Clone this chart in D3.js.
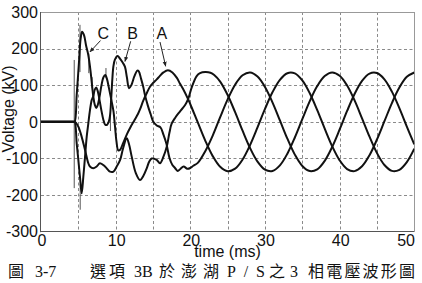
<!DOCTYPE html>
<html><head><meta charset="utf-8">
<script src="https://cdn.jsdelivr.net/npm/d3@7"></script>
<style>body{margin:0;background:#fff;} svg{display:block}</style>
</head><body>
<svg id="chart" width="422" height="283"></svg>
<script>
// ---- data ----
const xTicks = [0, 10, 20, 30, 40, 50];
const xGrid = [5, 10, 15, 20, 25, 30, 35, 40, 45];
const yTicks = [-300, -200, -100, 0, 100, 200, 300];
const yGrid = [-200, -100, 0, 100, 200];

// time (ms), voltage (kV)
const wave1 = [[0,0],[4.3,0],[4.5,0],[4.78,73],[5.09,164],[5.31,227],[5.5,246],[5.76,237],[6.03,209],[6.34,182],[6.65,136],[6.88,91],[7.0,70],[7.2,47],[7.4,38],[7.6,46],[7.8,64],[8.1,100],[8.35,121],[8.6,128],[8.85,116],[9.1,92],[9.4,62],[9.7,30],[9.9,-10],[10.1,-52],[10.35,-78],[10.6,-76],[11.0,-58],[11.5,-34],[12.0,-14],[12.5,4],[13.0,22],[13.3,36],[13.7,58],[14.2,80],[14.6,96],[15.0,106],[15.5,116],[15.9,125],[16.4,135],[17.0,141],[17.6,135],[18.2,120],[18.6,105],[19.0,91],[19.7,62],[20,48.1],[21,-1.7],[22,-51.3],[23,-93.6],[24,-122.9],[25,-134.8],[26,-127.9],[27,-102.9],[28,-63.5],[29,-15.2],[30,35.2],[31,80.7],[32,114.9],[33,132.9],[34,132.3],[35,113.1],[36,78.0],[37,31.9],[38,-18.6],[39,-66.5],[40,-105.1],[41,-128.9],[42,-134.6],[43,-121.4],[44,-91.2],[45,-48.1],[46,1.7],[47,51.3],[48,93.6],[49,122.9],[50,134.8]];

const wave2 = [[0,0],[4.3,0],[4.5,0],[4.78,-59],[5.0,-104],[5.22,-150],[5.45,-195],[5.67,-150],[5.9,-95],[6.12,-41],[6.34,-4],[6.56,32],[6.8,60],[7.0,70],[7.2,88],[7.4,94],[7.6,84],[7.8,64],[8.1,30],[8.35,6],[8.6,-8],[8.85,-8],[9.1,2],[9.25,18],[9.4,62],[9.55,115],[9.7,152],[9.9,170],[10.25,180],[10.6,172],[11.0,160],[11.25,150],[11.5,122],[11.8,92],[12.1,100],[12.5,124],[12.9,140],[13.1,138],[13.4,118],[13.7,95],[13.93,73],[14.3,45],[14.7,20],[15.04,0],[15.5,-10],[16.0,-15],[16.4,-35],[16.8,-60],[17.2,-98],[17.6,-118],[17.95,-126],[18.3,-134],[18.7,-128],[19.1,-122],[19.6,-128],[20.0,-126],[20.4,-120],[21,-112],[22,-80],[23,-37.4],[24,13.0],[25,61.5],[26,101.5],[27,127.1],[28,134.9],[29,123.8],[30,95.3],[31,53.4],[32,4.0],[33,-46.0],[34,-89.5],[35,-120.4],[36,-134.4],[37,-129.6],[38,-106.5],[39,-68.5],[40,-20.8],[41,29.7],[42,76.1],[43,111.8],[44,131.8],[45,133.3],[46,116.1],[47,82.5],[48,37.4],[49,-13.0],[50,-61.5]];

const wave3 = [[0,0],[4.3,0],[4.55,0],[5.0,-13],[5.45,-41],[5.9,-77],[6.34,-113],[6.56,-122],[7.0,-127],[7.46,-122],[7.9,-113],[8.57,-122],[9.24,-136],[9.7,-136],[10.14,-122],[10.6,-104],[11.0,-72],[11.48,-45],[11.8,-62],[12.15,-95],[12.7,-140],[13.26,-159],[13.7,-148],[14.16,-127],[14.5,-108],[14.83,-100],[15.2,-101],[15.5,-104],[15.94,-113],[16.4,-95],[16.84,-68],[17.2,-30],[17.5,-5],[18.0,12],[18.6,28],[19.3,46],[19.7,62],[20.2,95],[20.85,125],[21.3,133],[22.0,136],[22.7,134],[23.2,128],[24,109.9],[25,73.3],[26,26.4],[27,-24.2],[28,-71.4],[29,-108.6],[30,-130.5],[31,-134.1],[32,-118.8],[33,-86.9],[34,-42.8],[35,7.3],[36,56.4],[37,97.7],[38,125.1],[39,135.0],[40,125.9],[41,99.2],[42,58.5],[43,9.6],[44,-40.6],[45,-85.2],[46,-117.8],[47,-133.8],[48,-131.0],[49,-109.9],[50,-73.3]];

// thin switching spikes: time, v from, v to
const spikes = [[4.45,169,-181],[5.22,136,265],[5.25,-170,-240],[6.4,133,187],[6.85,92,122],[8.7,120,147],[9.3,22,-25]];

// phase labels with arrows (data units)
const labelNames = ["C", "B", "A"];
const labelT = [8.34, 12.28, 16.17];
const labelV = [242, 242, 242];
const arrowFrom = [[7.97,222],[12.01,220],[15.94,218]];
const arrowTo = [[6.56,191],[11.25,165],[16.7,152]];

// caption pieces
const captionText = ["圖", "3-7", "選項", "3B", "於", "澎湖", "P/S", "之", "3", "相電壓波形圖"];
const captionIsCJK = [true, false, true, false, true, true, false, true, false, true];

// ---- drawing ----
const svg = d3.select("#chart");
const x = d3.scaleLinear().domain([0, 50]).range([41, 414.3]);
const y = d3.scaleLinear().domain([-300, 300]).range([231.7, 12]);
const font = "'Liberation Sans', Arial, sans-serif";

svg.append("rect").attr("width", 422).attr("height", 283).attr("fill", "#fff");

const defs = svg.append("defs");
defs.append("clipPath").attr("id", "clip").append("rect")
  .attr("x", x(0)).attr("y", y(300)).attr("width", x(50) - x(0)).attr("height", y(-300) - y(300));
defs.append("marker").attr("id", "arr").attr("viewBox", "0 0 10 10")
  .attr("refX", 9).attr("refY", 5).attr("markerWidth", 5).attr("markerHeight", 5)
  .attr("orient", "auto").append("path").attr("d", "M0,1 L10,5 L0,9 Z").attr("fill", "#222");

// grid
const grid = svg.append("g").attr("stroke", "#8a8a8a").attr("stroke-width", 1).attr("stroke-dasharray", "3,2.5");
grid.selectAll(".gx").data(xGrid).join("line")
  .attr("x1", d => Math.round(x(d)) + 0.5).attr("x2", d => Math.round(x(d)) + 0.5)
  .attr("y1", y(300)).attr("y2", y(-300));
grid.selectAll(".gy").data(yGrid).join("line")
  .attr("y1", d => Math.round(y(d)) + 0.5).attr("y2", d => Math.round(y(d)) + 0.5)
  .attr("x1", x(0)).attr("x2", x(50));

// frame
svg.append("line").attr("x1", x(0)).attr("x2", x(50)).attr("y1", 12.5).attr("y2", 12.5).attr("stroke", "#999");
svg.append("line").attr("x1", 414.5).attr("x2", 414.5).attr("y1", y(300)).attr("y2", y(-300)).attr("stroke", "#999");
svg.append("line").attr("x1", 40.5).attr("x2", 40.5).attr("y1", y(300)).attr("y2", y(-300) + 0.5).attr("stroke", "#555");
svg.append("line").attr("x1", 40.5).attr("x2", x(50)).attr("y1", 231.5).attr("y2", 231.5).attr("stroke", "#555");

// tick labels
svg.append("g").selectAll("text").data(yTicks).join("text")
  .attr("x", 38).attr("y", d => y(d)).attr("dy", "0.36em")
  .attr("text-anchor", "end").attr("font-family", font).attr("font-size", 16).attr("fill", "#111")
  .text(d => d);
svg.append("g").selectAll("text").data(xTicks).join("text")
  .attr("x", d => d === 50 ? 415 : x(d) + 1).attr("y", 246)
  .attr("text-anchor", d => d === 50 ? "end" : "middle")
  .attr("font-family", font).attr("font-size", 16).attr("fill", "#111")
  .text(d => d);

// axis titles
svg.append("text").attr("x", 227.5).attr("y", 257).attr("text-anchor", "middle")
  .attr("font-family", font).attr("font-size", 16).attr("fill", "#111").text("time (ms)");
svg.append("text").attr("transform", "translate(14,109) rotate(-90)").attr("text-anchor", "middle")
  .attr("font-family", font).attr("font-size", 16).attr("fill", "#111").text("Voltage (kV)");

// curves
const plot = svg.append("g").attr("clip-path", "url(#clip)");
const line = d3.line().x(d => x(d[0])).y(d => y(d[1])).curve(d3.curveCatmullRom.alpha(0.5));
plot.selectAll(".sp").data(spikes).join("line")
  .attr("x1", d => x(d[0])).attr("x2", d => x(d[0]))
  .attr("y1", d => y(d[1])).attr("y2", d => y(d[2]))
  .attr("stroke", "#555").attr("stroke-width", 1);
plot.selectAll(".w").data([wave1, wave2, wave3]).join("path")
  .attr("d", line).attr("fill", "none").attr("stroke", "#111")
  .attr("stroke-width", 2).attr("stroke-linejoin", "round");

// labels + arrows
const ann = svg.append("g");
ann.selectAll("line").data(labelNames).join("line")
  .attr("x1", (d, i) => x(arrowFrom[i][0])).attr("y1", (d, i) => y(arrowFrom[i][1]))
  .attr("x2", (d, i) => x(arrowTo[i][0])).attr("y2", (d, i) => y(arrowTo[i][1]))
  .attr("stroke", "#222").attr("stroke-width", 1).attr("marker-end", "url(#arr)");
ann.selectAll("text").data(labelNames).join("text")
  .attr("x", (d, i) => x(labelT[i])).attr("y", (d, i) => y(labelV[i])).attr("dy", "0.36em")
  .attr("text-anchor", "middle").attr("font-family", font).attr("font-size", 16).attr("fill", "#111")
  .text(d => d);

// caption (layout positions)
const capX = [8, 35, 90, 134, 159, 181, 227, 269, 290, 308];
const capW = [null, null, 35, null, null, 38, 38, null, null, 107];
svg.append("g").selectAll("text").data(captionText).join("text")
  .attr("x", (d, i) => capX[i]).attr("y", 277)
  .attr("font-family", (d, i) => captionIsCJK[i] ? "'Noto Sans CJK TC', sans-serif" : "'Liberation Serif', 'Times New Roman', serif")
  .attr("font-size", (d, i) => captionIsCJK[i] ? 16 : 16)
  .attr("textLength", (d, i) => capW[i])
  .attr("lengthAdjust", "spacing")
  .attr("fill", "#111")
  .text(d => d);
</script>
</body></html>
